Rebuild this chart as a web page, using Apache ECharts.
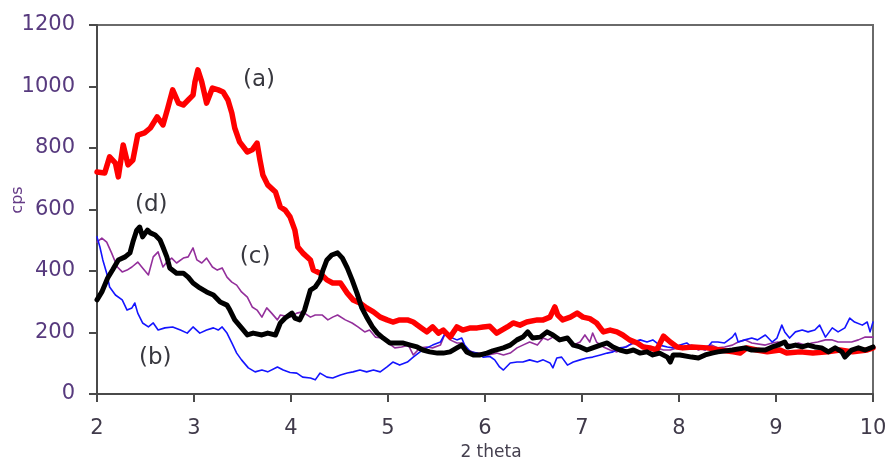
<!DOCTYPE html>
<html>
<head>
<meta charset="utf-8">
<script src="https://cdn.jsdelivr.net/npm/echarts@6/dist/echarts.min.js"></script>
<style>
  html, body { margin: 0; padding: 0; background: #ffffff; }
  #chart { width: 889px; height: 464px; }
</style>
</head>
<body>
<div id="chart"></div>
<script>
// XRD scans: intensity (cps) against 2 theta, points given as [2theta, cps]
const scanA = [
  [2.00,722],[2.08,719],[2.13,771],[2.19,751],[2.22,706],[2.27,810],[2.32,745],[2.37,761],
  [2.42,842],[2.49,849],[2.55,865],[2.62,901],[2.68,875],[2.73,930],[2.78,989],[2.84,946],
  [2.89,940],[2.94,956],[2.99,972],[3.01,1015],[3.04,1054],[3.08,1015],[3.13,946],[3.19,995],
  [3.25,989],[3.30,982],[3.35,956],[3.39,914],[3.42,865],[3.47,820],[3.55,787],[3.60,794],
  [3.65,816],[3.68,761],[3.71,712],[3.76,680],[3.84,657],[3.89,608],[3.94,598],[3.99,576],
  [4.04,533],[4.07,478],[4.12,459],[4.20,436],[4.23,403],[4.30,393],[4.37,371],[4.43,361],
  [4.51,361],[4.58,328],[4.64,306],[4.71,296],[4.78,280],[4.85,267],[4.92,250],[4.99,241],
  [5.05,234],[5.12,241],[5.20,241],[5.26,234],[5.33,218],[5.40,202],[5.46,218],[5.52,198],
  [5.57,208],[5.64,185],[5.71,218],[5.77,208],[5.85,215],[5.92,215],[5.98,218],[6.05,220],
  [6.12,198],[6.23,218],[6.29,231],[6.36,224],[6.43,234],[6.54,241],[6.60,241],[6.67,250],
  [6.72,283],[6.75,257],[6.80,241],[6.88,250],[6.95,263],[7.01,250],[7.08,245],[7.15,231],
  [7.22,202],[7.29,208],[7.36,202],[7.42,192],[7.49,176],[7.57,166],[7.63,153],[7.70,150],
  [7.77,143],[7.84,188],[7.91,169],[7.98,153],[8.04,150],[8.14,153],[8.29,150],[8.42,143],
  [8.56,137],[8.63,133],[8.70,150],[8.80,143],[8.91,137],[9.04,143],[9.11,133],[9.25,137],
  [9.38,133],[9.53,137],[9.66,143],[9.79,137],[9.94,143],[10.00,150]
];

const scanB = [
  [2.00,511],[2.03,478],[2.06,436],[2.10,393],[2.13,348],[2.19,322],[2.26,306],[2.31,273],
  [2.36,280],[2.39,296],[2.42,263],[2.47,231],[2.53,218],[2.58,231],[2.63,208],[2.70,215],
  [2.78,218],[2.86,208],[2.93,198],[2.99,218],[3.06,198],[3.13,208],[3.20,215],[3.25,208],
  [3.29,218],[3.34,198],[3.39,166],[3.44,133],[3.49,111],[3.56,85],[3.63,72],[3.70,78],
  [3.76,72],[3.86,88],[3.92,78],[3.99,70],[4.06,68],[4.12,55],[4.20,52],[4.25,46],
  [4.30,68],[4.37,55],[4.43,52],[4.51,62],[4.58,68],[4.64,72],[4.71,78],[4.78,72],
  [4.85,78],[4.92,72],[4.99,88],[5.05,104],[5.12,94],[5.20,104],[5.26,120],[5.33,137],
  [5.40,150],[5.46,159],[5.54,169],[5.59,198],[5.64,185],[5.71,176],[5.76,182],[5.79,159],
  [5.85,137],[5.92,133],[5.98,120],[6.05,122],[6.10,111],[6.15,88],[6.19,78],[6.26,101],
  [6.33,104],[6.39,104],[6.46,111],[6.54,104],[6.60,111],[6.67,101],[6.70,85],[6.74,117],
  [6.79,120],[6.85,94],[6.91,104],[6.98,111],[7.05,117],[7.11,120],[7.19,127],[7.26,133],
  [7.32,137],[7.39,150],[7.46,153],[7.53,169],[7.60,176],[7.67,169],[7.73,176],[7.80,159],
  [7.88,153],[7.94,150],[8.01,159],[8.08,166],[8.13,153],[8.20,150],[8.27,143],[8.34,169],
  [8.40,169],[8.47,166],[8.55,185],[8.58,198],[8.61,169],[8.68,176],[8.75,182],[8.81,176],
  [8.89,192],[8.96,169],[9.01,182],[9.06,224],[9.09,202],[9.14,182],[9.20,202],[9.27,208],
  [9.33,202],[9.40,208],[9.45,224],[9.51,185],[9.58,215],[9.64,202],[9.71,215],[9.76,247],
  [9.81,234],[9.89,224],[9.94,234],[9.97,202],[10.00,234]
];

const scanC = [
  [2.00,494],[2.05,507],[2.10,494],[2.15,459],[2.21,413],[2.26,397],[2.31,403],[2.36,413],
  [2.42,429],[2.47,410],[2.53,387],[2.58,446],[2.63,462],[2.68,413],[2.72,429],[2.77,442],
  [2.82,426],[2.89,442],[2.94,446],[2.99,475],[3.03,436],[3.08,426],[3.13,442],[3.19,413],
  [3.24,403],[3.29,410],[3.34,380],[3.39,364],[3.44,354],[3.49,332],[3.55,315],[3.60,283],
  [3.65,273],[3.70,250],[3.75,280],[3.80,263],[3.86,241],[3.89,257],[3.99,250],[4.06,263],
  [4.12,267],[4.20,250],[4.25,257],[4.32,257],[4.38,241],[4.43,250],[4.48,257],[4.56,241],
  [4.63,231],[4.69,218],[4.76,202],[4.81,208],[4.87,185],[4.94,182],[5.00,166],[5.07,150],
  [5.14,153],[5.21,159],[5.26,127],[5.33,150],[5.40,153],[5.46,150],[5.54,159],[5.59,198],
  [5.64,176],[5.71,166],[5.77,166],[5.82,143],[5.90,133],[5.97,133],[6.03,127],[6.12,133],
  [6.19,127],[6.26,133],[6.33,150],[6.39,159],[6.46,169],[6.54,159],[6.60,182],[6.65,176],
  [6.70,185],[6.77,176],[6.85,176],[6.91,159],[6.98,169],[7.03,192],[7.08,169],[7.11,198],
  [7.15,169],[7.22,153],[7.29,143],[7.36,137],[7.42,150],[7.49,159],[7.57,169],[7.63,159],
  [7.70,153],[7.77,150],[7.84,143],[7.91,143],[7.98,150],[8.06,153],[8.13,159],[8.20,143],
  [8.27,153],[8.34,159],[8.40,150],[8.47,153],[8.55,159],[8.61,169],[8.68,176],[8.75,166],
  [8.89,159],[8.96,166],[9.02,169],[9.09,166],[9.16,159],[9.23,166],[9.30,159],[9.37,166],
  [9.43,169],[9.51,176],[9.58,176],[9.64,169],[9.78,169],[9.85,176],[9.92,185],[10.00,185]
];

const scanD = [
  [2.00,306],[2.05,332],[2.11,377],[2.16,403],[2.22,436],[2.29,446],[2.34,459],[2.37,494],
  [2.41,533],[2.44,543],[2.47,511],[2.52,533],[2.55,524],[2.60,517],[2.65,501],[2.68,478],
  [2.72,446],[2.75,410],[2.82,393],[2.89,393],[2.94,380],[2.99,361],[3.06,345],[3.13,332],
  [3.20,322],[3.27,299],[3.34,289],[3.37,273],[3.42,241],[3.49,215],[3.55,192],[3.61,198],
  [3.70,192],[3.76,198],[3.84,192],[3.89,231],[3.94,247],[4.01,263],[4.04,247],[4.09,241],
  [4.14,273],[4.20,338],[4.25,348],[4.30,371],[4.33,403],[4.37,436],[4.42,452],[4.48,459],
  [4.53,442],[4.58,410],[4.63,371],[4.68,328],[4.73,280],[4.78,250],[4.84,218],[4.89,198],
  [4.95,182],[5.02,166],[5.15,166],[5.23,159],[5.30,153],[5.36,143],[5.43,137],[5.51,133],
  [5.57,133],[5.64,137],[5.71,150],[5.76,159],[5.81,137],[5.88,127],[5.95,127],[6.02,133],
  [6.08,140],[6.19,150],[6.26,159],[6.33,176],[6.39,185],[6.44,202],[6.49,182],[6.57,185],
  [6.64,202],[6.70,192],[6.77,176],[6.85,182],[6.91,159],[6.98,153],[7.05,143],[7.11,150],
  [7.19,159],[7.26,166],[7.32,153],[7.39,143],[7.46,137],[7.53,143],[7.60,133],[7.67,137],
  [7.73,127],[7.80,133],[7.88,120],[7.91,104],[7.94,127],[8.01,127],[8.13,120],[8.20,117],
  [8.27,127],[8.34,133],[8.40,137],[8.55,143],[8.68,150],[8.75,143],[8.89,143],[8.96,153],
  [9.02,159],[9.09,169],[9.12,153],[9.20,159],[9.27,153],[9.33,159],[9.40,153],[9.47,150],
  [9.54,137],[9.61,150],[9.68,137],[9.71,120],[9.78,143],[9.85,150],[9.92,143],[10.00,153]
];

// curve tags and where they sit, as [2theta, cps]
const tagText = ['(a)', '(b)', '(c)', '(d)'];
const tagAt = [[3.67, 1022], [2.60, 116], [3.63, 444], [2.56, 616]];

const xTicks = { min: 2, max: 10, step: 1 };
const yTicks = { min: 0, max: 1200, step: 200 };

const FONT = '"DejaVu Sans", "Liberation Sans", Arial, sans-serif';

function tag(i) {
  return {
    symbol: 'circle',
    symbolSize: 1,
    itemStyle: { color: 'rgba(0,0,0,0)' },
    label: {
      show: true, position: 'inside', formatter: tagText[i],
      fontFamily: FONT, fontSize: 23, color: '#38383f'
    },
    data: [{ coord: tagAt[i] }]
  };
}

function scan(data, color, width, z, i) {
  return {
    type: 'line', data: data, showSymbol: false, symbol: 'none',
    lineStyle: { color: color, width: width, join: 'round', cap: 'round' },
    itemStyle: { color: color },
    z: z, silent: true, animation: false,
    markPoint: tag(i)
  };
}

const chart = echarts.init(document.getElementById('chart'), null, { renderer: 'canvas' });
chart.setOption({
  animation: false,
  backgroundColor: '#ffffff',
  grid: {
    left: 97, right: 16, top: 25, bottom: 70,
    containLabel: false, outerBoundsMode: 'none',
    show: true, borderColor: '#6a6a6a', borderWidth: 2, backgroundColor: 'transparent'
  },
  xAxis: {
    type: 'value', min: xTicks.min, max: xTicks.max, interval: xTicks.step,
    name: '2 theta', nameLocation: 'middle', nameGap: 48,
    nameTextStyle: { fontFamily: FONT, fontSize: 17, color: '#45404f', padding: [0, 0, 0, 12] },
    axisLine: { show: true, onZero: false, lineStyle: { color: '#4a4a4a', width: 2 } },
    axisTick: { show: true, inside: false, length: 8, lineStyle: { color: '#4a4a4a', width: 2 } },
    axisLabel: {
      fontFamily: FONT, fontSize: 21, color: '#403a4a', margin: 24,
      formatter: (v) => String(v)
    },
    splitLine: { show: false }
  },
  yAxis: {
    type: 'value', min: yTicks.min, max: yTicks.max, interval: yTicks.step,
    axisLine: { show: true, lineStyle: { color: '#4a4a4a', width: 2 } },
    axisTick: { show: true, inside: false, length: 8, lineStyle: { color: '#4a4a4a', width: 2 } },
    axisLabel: {
      fontFamily: FONT, fontSize: 21, color: '#573a7e', margin: 22,
      formatter: (v) => String(v)
    },
    splitLine: { show: false }
  },
  graphic: [{
    type: 'text', x: 18, y: 200, rotation: Math.PI / 2,
    style: {
      text: 'cps', fontFamily: FONT, fontSize: 16, fill: '#643a86',
      align: 'center', verticalAlign: 'middle'
    }
  }],
  series: [
    scan(scanC, '#932f9b', 1.6, 2, 2),
    scan(scanB, '#1414ff', 1.6, 3, 1),
    scan(scanA, '#ff0000', 5.5, 4, 0),
    scan(scanD, '#000000', 5, 5, 3)
  ]
});
</script>
</body>
</html>
